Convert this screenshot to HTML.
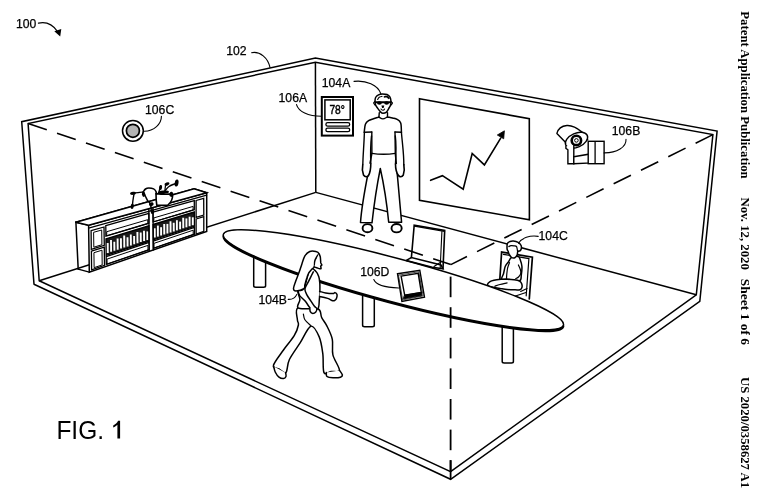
<!DOCTYPE html>
<html><head><meta charset="utf-8"><style>
html,body{margin:0;padding:0;background:#fff;width:768px;height:504px;overflow:hidden}
svg{display:block;will-change:transform}
text{font-family:"Liberation Sans",sans-serif;fill:#000}
.sr{font-family:"Liberation Serif",serif;font-weight:bold}
</style></head><body>
<svg width="768" height="504" viewBox="0 0 768 504">
<path d="M34.0,284.2 L21.7,121.7 L315.4,58.1 L717.1,131.0 L699.8,301.3 L450.6,479.3 L34.0,284.2" fill="none" stroke="#000" stroke-width="1.5" stroke-linejoin="miter" stroke-linecap="round"/>
<path d="M39.2,280.8 L28.1,123.6 L315.4,62.2 L712.9,134.6 L696.3,294.8 L450.6,471.7 L39.2,280.8" fill="none" stroke="#000" stroke-width="1.5" stroke-linejoin="miter" stroke-linecap="round"/>
<line x1="315.4" y1="62.2" x2="315.8" y2="192.4" stroke="#000" stroke-width="1.5" />
<line x1="39.2" y1="280.8" x2="315.8" y2="192.4" stroke="#000" stroke-width="1.5" />
<line x1="315.8" y1="192.4" x2="696.3" y2="294.8" stroke="#000" stroke-width="1.5" />
<line x1="28.1" y1="123.6" x2="450.8" y2="264.6" stroke="#000" stroke-width="1.6" stroke-dasharray="19.7 10.8"/>
<line x1="712.9" y1="134.6" x2="450.8" y2="264.6" stroke="#000" stroke-width="1.6" stroke-dasharray="19.3 11.2"/>
<circle cx="132.9" cy="130.8" r="10.4" fill="#fff" stroke="#000" stroke-width="1.5"/>
<circle cx="132.9" cy="130.8" r="6.5" fill="#b4b4b4" stroke="#000" stroke-width="1.7"/>
<rect x="321.8" y="97.0" width="31.2" height="38.6" fill="#fff" stroke="#000" stroke-width="2.0"/>
<rect x="324.9" y="99.9" width="25.3" height="19.9" fill="none" stroke="#000" stroke-width="1.5"/>
<rect x="325.9" y="122.7" width="23.8" height="3.5" rx="1.7" fill="none" stroke="#000" stroke-width="1.3"/>
<rect x="325.9" y="128.2" width="23.8" height="3.5" rx="1.7" fill="none" stroke="#000" stroke-width="1.3"/>
<text x="329.4" y="113.8" font-size="12.6" textLength="15.5" lengthAdjust="spacingAndGlyphs" stroke="#000" stroke-width="0.45">78°</text>
<path d="M419.5,98.7 L529.3,118.7 L529.4,219.7 L419.5,200.4 Z" fill="none" stroke="#000" stroke-width="1.6" stroke-linejoin="miter" stroke-linecap="round"/>
<path d="M430.6,180.3 L442.4,175.7 L463.2,189.2 L472.2,153.5 L484.4,164.9 L500.7,138.2" fill="none" stroke="#000" stroke-width="1.6" stroke-linejoin="miter" stroke-linecap="round"/>
<polygon points="504.4,130.8 497.3,135.0 503.7,138.8" fill="#000" stroke="#000" stroke-width="0.8"/>
<path d="M565.9,142.8 L556.9,133.4 C558,129 562,126 566.9,125.5 C571,125.2 576,127 581.7,131.9 C584.5,134 587,136.5 587.7,139.8" fill="#fff" stroke="#000" stroke-width="1.4" stroke-linejoin="round" stroke-linecap="round" />
<ellipse cx="576.5" cy="140.2" rx="11.8" ry="7.0" transform="rotate(-24 576.5 140.2)" fill="#fff" stroke="#000" stroke-width="1.4"/>
<circle cx="576.4" cy="140.4" r="4.7" fill="#fff" stroke="#000" stroke-width="2.6"/>
<circle cx="576.4" cy="140.4" r="1.8" fill="#fff" stroke="#000" stroke-width="1.0"/>
<path d="M565.9,146.3 L565.9,148.3 L567.9,149.8 L567.9,163.7 L573.8,163.7 L573.8,145.2" fill="#fff" stroke="#000" stroke-width="1.4" stroke-linejoin="miter" stroke-linecap="round"/>
<path d="M573.8,156.7 L591.7,153.7 L591.7,162.9 L573.8,163.7 Z" fill="#fff" stroke="#000" stroke-width="1.4" stroke-linejoin="miter" stroke-linecap="round"/>
<rect x="588.2" y="141.3" width="15.9" height="22.4" fill="#fff" stroke="#000" stroke-width="1.4"/>
<line x1="595.1" y1="141.3" x2="595.1" y2="163.7" stroke="#000" stroke-width="1.3" />
<path d="M75.9,222.3 L194.1,188.7 L206.7,192.8 L206.7,192.8" fill="none" stroke="#000" stroke-width="1.5" stroke-linejoin="miter" stroke-linecap="round"/>
<path d="M78.2,269.1 L75.9,222.3 L88.6,225.3" fill="#fff" stroke="#000" stroke-width="1.5" stroke-linejoin="miter" stroke-linecap="round"/>
<path d="M88.6,225.3 L206.7,192.8 L206.7,231.5 L89.3,272.1 Z" fill="#fff" stroke="#000" stroke-width="1.5" stroke-linejoin="miter" stroke-linecap="round"/>
<path d="M75.9,222.3 L194.1,188.7 L206.7,192.8 L88.6,225.3 L75.9,222.3" fill="#fff" stroke="#000" stroke-width="1.5" stroke-linejoin="miter" stroke-linecap="round"/>
<path d="M78.2,269.1 L89.3,272.1" fill="none" stroke="#000" stroke-width="1.5" stroke-linejoin="miter" stroke-linecap="round"/>
<path d="M88.6,228.1 L206.7,195.1" fill="none" stroke="#000" stroke-width="1.1" stroke-linejoin="miter" stroke-linecap="round"/>
<path d="M91.1,230.7 L104.0,227.0 L104.3,245.3 L91.3,249.4 Z" fill="none" stroke="#000" stroke-width="1.3" stroke-linejoin="miter" stroke-linecap="round"/>
<path d="M94.0,232.2 L101.7,230.0 L101.9,244.7 L94.2,247.1 Z" fill="none" stroke="#000" stroke-width="1.0" stroke-linejoin="miter" stroke-linecap="round"/>
<path d="M91.4,251.2 L104.3,247.2 L104.5,265.4 L91.6,269.9 Z" fill="none" stroke="#000" stroke-width="1.3" stroke-linejoin="miter" stroke-linecap="round"/>
<path d="M94.3,252.6 L102.0,250.2 L102.2,264.9 L94.5,267.5 Z" fill="none" stroke="#000" stroke-width="1.0" stroke-linejoin="miter" stroke-linecap="round"/>
<path d="M196.1,200.5 L203.7,198.3 L203.8,215.0 L196.1,217.4 Z" fill="none" stroke="#000" stroke-width="1.3" stroke-linejoin="miter" stroke-linecap="round"/>
<path d="M196.1,219.0 L203.8,216.6 L203.8,231.3 L196.1,234.0 Z" fill="none" stroke="#000" stroke-width="1.3" stroke-linejoin="miter" stroke-linecap="round"/>
<path d="M105.8,225.6 L148.9,213.4 L148.9,223.2 L105.9,236.1 Z" fill="none" stroke="#000" stroke-width="1.3" stroke-linejoin="miter" stroke-linecap="round"/>
<path d="M107.1,231.6 L147.7,219.7 L147.8,223.6 L107.1,235.7 Z" fill="none" stroke="#000" stroke-width="1.0" stroke-linejoin="miter" stroke-linecap="round"/>
<path d="M106.0,238.8 L149.0,225.8 L149.1,241.2 L106.2,255.3 Z" fill="#1a1a1a" stroke="#000" stroke-width="1.4" stroke-linejoin="miter" stroke-linecap="round"/>
<line x1="107.7" y1="242.9" x2="107.8" y2="252.9" stroke="#fff" stroke-width="1.9"/>
<line x1="111.0" y1="240.0" x2="111.1" y2="251.8" stroke="#fff" stroke-width="1.9"/>
<line x1="114.3" y1="241.7" x2="114.4" y2="250.7" stroke="#fff" stroke-width="1.9"/>
<line x1="117.6" y1="238.5" x2="117.7" y2="249.7" stroke="#fff" stroke-width="1.9"/>
<line x1="120.9" y1="238.3" x2="121.0" y2="248.6" stroke="#fff" stroke-width="1.9"/>
<line x1="124.2" y1="235.5" x2="124.3" y2="247.5" stroke="#fff" stroke-width="1.9"/>
<line x1="127.5" y1="237.2" x2="127.6" y2="246.4" stroke="#fff" stroke-width="1.9"/>
<line x1="130.8" y1="234.4" x2="130.9" y2="245.4" stroke="#fff" stroke-width="1.9"/>
<line x1="134.1" y1="236.0" x2="134.2" y2="244.3" stroke="#fff" stroke-width="1.9"/>
<line x1="137.4" y1="231.9" x2="137.5" y2="243.2" stroke="#fff" stroke-width="1.9"/>
<line x1="140.7" y1="232.6" x2="140.8" y2="242.1" stroke="#fff" stroke-width="1.9"/>
<line x1="144.0" y1="230.7" x2="144.1" y2="241.1" stroke="#fff" stroke-width="1.9"/>
<line x1="147.4" y1="231.4" x2="147.4" y2="240.0" stroke="#fff" stroke-width="1.9"/>
<path d="M106.2,256.6 L149.1,242.4 L149.2,249.7 L106.3,264.4 Z" fill="none" stroke="#000" stroke-width="1.3" stroke-linejoin="miter" stroke-linecap="round"/>
<path d="M107.4,259.0 L147.9,245.4 L148.0,250.1 L107.5,264.0 Z" fill="none" stroke="#000" stroke-width="1.0" stroke-linejoin="miter" stroke-linecap="round"/>
<path d="M153.0,212.2 L194.3,200.6 L194.3,209.7 L153.1,222.0 Z" fill="none" stroke="#000" stroke-width="1.3" stroke-linejoin="miter" stroke-linecap="round"/>
<path d="M154.2,217.8 L193.1,206.4 L193.1,210.0 L154.3,221.6 Z" fill="none" stroke="#000" stroke-width="1.0" stroke-linejoin="miter" stroke-linecap="round"/>
<path d="M153.1,224.5 L194.3,212.0 L194.4,226.3 L153.2,239.8 Z" fill="#1a1a1a" stroke="#000" stroke-width="1.4" stroke-linejoin="miter" stroke-linecap="round"/>
<line x1="154.7" y1="228.3" x2="154.8" y2="237.6" stroke="#fff" stroke-width="1.9"/>
<line x1="157.9" y1="225.6" x2="157.9" y2="236.6" stroke="#fff" stroke-width="1.9"/>
<line x1="161.1" y1="227.2" x2="161.1" y2="235.5" stroke="#fff" stroke-width="1.9"/>
<line x1="164.2" y1="224.1" x2="164.3" y2="234.5" stroke="#fff" stroke-width="1.9"/>
<line x1="167.4" y1="223.9" x2="167.4" y2="233.5" stroke="#fff" stroke-width="1.9"/>
<line x1="170.5" y1="221.3" x2="170.6" y2="232.4" stroke="#fff" stroke-width="1.9"/>
<line x1="173.7" y1="222.8" x2="173.8" y2="231.4" stroke="#fff" stroke-width="1.9"/>
<line x1="176.9" y1="220.2" x2="176.9" y2="230.4" stroke="#fff" stroke-width="1.9"/>
<line x1="180.1" y1="221.6" x2="180.1" y2="229.3" stroke="#fff" stroke-width="1.9"/>
<line x1="183.2" y1="217.8" x2="183.3" y2="228.3" stroke="#fff" stroke-width="1.9"/>
<line x1="186.4" y1="218.4" x2="186.4" y2="227.3" stroke="#fff" stroke-width="1.9"/>
<line x1="189.6" y1="216.7" x2="189.6" y2="226.2" stroke="#fff" stroke-width="1.9"/>
<line x1="192.8" y1="217.3" x2="192.8" y2="225.2" stroke="#fff" stroke-width="1.9"/>
<path d="M153.2,241.1 L194.4,227.5 L194.4,234.2 L153.3,248.3 Z" fill="none" stroke="#000" stroke-width="1.3" stroke-linejoin="miter" stroke-linecap="round"/>
<path d="M154.4,243.2 L193.2,230.2 L193.2,234.6 L154.4,247.9 Z" fill="none" stroke="#000" stroke-width="1.0" stroke-linejoin="miter" stroke-linecap="round"/>
<path d="M148.8,208.7 L149.2,251.4" fill="none" stroke="#000" stroke-width="1.3" stroke-linejoin="miter" stroke-linecap="round"/>
<path d="M153.0,207.6 L153.3,250.0" fill="none" stroke="#000" stroke-width="1.3" stroke-linejoin="miter" stroke-linecap="round"/>
<path d="M156,193.6 C161,194.2 167,194.4 172.6,193.9 C173,198.5 171,202.5 167.9,205.2 L156.8,205.4 C156.2,201.5 156,197.5 156,193.6 Z" fill="#fff" stroke="#000" stroke-width="1.6" stroke-linejoin="round" stroke-linecap="round" />
<path d="M143.3,191.8 C143.7,191.3 144.6,189.6 145.5,189.0 C146.4,188.4 147.5,188.0 148.8,188.0 C150.2,188.0 152.4,188.3 153.6,188.9 C154.8,189.5 155.6,190.7 156.0,191.5 C156.4,192.3 156.2,193.6 156.2,194.0" fill="none" stroke="#000" stroke-width="1.6" stroke-linejoin="round" stroke-linecap="round" />
<path d="M143.3,191.8 C143.7,192.6 144.8,195.1 145.5,196.5 C146.2,197.9 146.8,199.4 147.5,200.5 C148.2,201.6 149.2,201.9 149.8,203.0 C150.4,204.1 150.8,205.6 151.0,207.0 C151.2,208.4 151.2,210.8 151.3,211.5" fill="none" stroke="#000" stroke-width="1.5" stroke-linejoin="round" stroke-linecap="round" />
<path d="M143.3,192.0 C142.4,192.1 140.0,192.4 138.0,192.6 C136.0,192.8 132.4,193.1 131.3,193.2" fill="none" stroke="#000" stroke-width="1.4" stroke-linejoin="round" stroke-linecap="round" />
<path d="M134.2,193.4 C134.0,194.2 133.6,196.2 133.3,198.0 C133.0,199.8 132.6,203.4 132.5,204.5" fill="none" stroke="#000" stroke-width="1.4" stroke-linejoin="round" stroke-linecap="round" />
<ellipse cx="133" cy="193.3" rx="3.0" ry="1.5" transform="rotate(-8 133 193.3)" fill="#000"/>
<ellipse cx="132.2" cy="206.2" rx="1.6" ry="2.8" transform="rotate(10 132.2 206.2)" fill="#000"/>
<ellipse cx="143.6" cy="194.3" rx="1.7" ry="2.6" transform="rotate(-10 143.6 194.3)" fill="#000"/>
<ellipse cx="151.3" cy="204.3" rx="2.4" ry="1.8" transform="rotate(-20 151.3 204.3)" fill="#000"/>
<ellipse cx="152.4" cy="211.7" rx="1.6" ry="2.4" transform="rotate(10 152.4 211.7)" fill="#000"/>
<ellipse cx="171.3" cy="194.3" rx="1.9" ry="2.6" transform="rotate(10 171.3 194.3)" fill="#000"/>
<ellipse cx="160.6" cy="187.5" rx="1.5" ry="2.6" transform="rotate(10 160.6 187.5)" fill="#000"/>
<ellipse cx="167" cy="184" rx="2.6" ry="1.5" transform="rotate(-20 167 184)" fill="#000"/>
<ellipse cx="176.6" cy="183.0" rx="1.9" ry="3.6" transform="rotate(10 176.6 183.0)" fill="#000"/>
<ellipse cx="163.5" cy="192.2" rx="5.5" ry="1.7" transform="rotate(-5 163.5 192.2)" fill="#000"/>
<path d="M158.5,193.3 C158.7,192.8 159.2,191.2 159.5,190.0 C159.8,188.8 160.3,186.7 160.5,186.0" fill="none" stroke="#000" stroke-width="1.4" stroke-linejoin="round" stroke-linecap="round" />
<path d="M163.5,192.5 C163.9,192.0 165.1,190.5 166.0,189.5 C166.9,188.5 167.8,187.3 169.0,186.5 C170.2,185.7 171.8,185.0 173.0,184.5 C174.2,184.0 175.5,183.7 176.0,183.5" fill="none" stroke="#000" stroke-width="1.4" stroke-linejoin="round" stroke-linecap="round" />
<path d="M165.0,189.5 C165.1,188.9 165.2,186.9 165.5,186.0 C165.8,185.1 166.3,184.6 166.5,184.3" fill="none" stroke="#000" stroke-width="1.2" stroke-linejoin="round" stroke-linecap="round" />
<path d="M499.8,279.8 L501.6,252.1 L532.4,257.1 L529.3,298.9" fill="#fff" stroke="#000" stroke-width="1.7" stroke-linejoin="miter" stroke-linecap="round"/>
<path d="M503.3,254.3 L528.9,258.6 L526.2,295.8" fill="none" stroke="#000" stroke-width="1.2" stroke-linejoin="miter" stroke-linecap="round"/>
<path d="M520.7,291.5 L527.0,288.5" fill="none" stroke="#000" stroke-width="1.2" stroke-linejoin="miter" stroke-linecap="round"/>
<path d="M514.0,296.5 L526.0,292.5" fill="none" stroke="#000" stroke-width="1.2" stroke-linejoin="miter" stroke-linecap="round"/>
<path d="M511.4,257.7 C509.8,258.6 509.4,260.6 508.4,262.0 C507.4,263.4 506.1,264.4 505.3,266.3 C504.5,268.2 504.1,271.6 503.5,273.7 C502.9,275.8 501.0,278.3 501.6,279.2 C502.2,280.1 504.0,278.9 507.0,279.2 C510.0,279.5 517.0,281.7 519.4,281.0 C521.8,280.3 520.9,277.3 521.3,274.9 C521.7,272.4 522.1,268.8 521.9,266.3 C521.7,263.8 520.9,261.6 520.3,260.0 C519.7,258.4 519.7,256.9 518.2,256.5 C516.7,256.1 513.0,256.8 511.4,257.7 Z" fill="#fff" stroke="#000" stroke-width="1.5" stroke-linejoin="round" stroke-linecap="round" />
<path d="M509.5,262.5 C509.2,263.4 508.1,266.1 507.6,268.0 C507.2,269.9 507.0,272.2 506.8,274.0 C506.6,275.8 506.6,277.8 506.5,278.5" fill="none" stroke="#000" stroke-width="1.2" stroke-linejoin="round" stroke-linecap="round" />
<path d="M518.4,265.0 C518.8,265.8 520.1,268.6 520.5,270.0 C520.9,271.4 521.0,272.5 520.7,273.7 C520.4,274.9 519.3,276.2 518.5,277.0 C517.7,277.8 516.2,278.3 515.8,278.6" fill="none" stroke="#000" stroke-width="1.2" stroke-linejoin="round" stroke-linecap="round" />
<path d="M507.1,249.1 C507.0,247.8 506.9,244.8 507.4,243.5 C507.9,242.2 509.0,241.9 510.0,241.5 C511.0,241.1 511.9,240.9 513.3,241.0 C514.7,241.1 516.9,241.6 518.2,242.3 C519.5,243.1 520.6,244.4 521.1,245.5 C521.6,246.6 521.4,248.1 521.2,249.0 C521.0,249.9 520.6,250.4 520.0,250.8 C519.4,251.2 518.3,250.9 517.8,251.6 C517.3,252.3 517.7,253.8 517.2,254.8 C516.7,255.8 515.7,257.4 514.8,257.8 C513.9,258.2 512.5,258.1 511.6,257.5 C510.7,256.9 509.8,255.5 509.2,254.5 C508.6,253.5 508.5,252.4 508.2,251.5 C507.9,250.6 507.2,250.4 507.1,249.1 Z" fill="#fff" stroke="#000" stroke-width="1.5" stroke-linejoin="round" stroke-linecap="round" />
<path d="M508.8,246.6 C509.2,246.4 510.1,245.7 511.0,245.6 C511.9,245.5 513.1,245.6 514.0,245.8 C514.9,246.0 516.0,245.6 516.6,246.6 C517.2,247.6 517.4,250.8 517.6,251.6" fill="none" stroke="#000" stroke-width="1.2" stroke-linejoin="round" stroke-linecap="round" />
<path d="M487.5,284.3 C487.6,283.5 488.9,282.3 490.0,281.6 C491.1,280.9 492.2,280.6 494.0,280.2 C495.8,279.8 498.8,279.5 501.0,279.3 C503.2,279.1 504.9,279.1 507.1,279.2 C509.3,279.3 511.9,279.5 514.0,279.8 C516.0,280.1 518.1,280.4 519.4,281.0 C520.7,281.6 521.2,282.5 521.6,283.5 C522.0,284.5 522.3,286.2 522.0,287.2 C521.7,288.2 521.5,289.3 520.0,289.7 C518.5,290.1 515.1,289.8 513.0,289.8 C510.9,289.8 509.3,289.7 507.1,289.5 C504.9,289.3 502.1,288.8 500.0,288.5 C497.9,288.2 496.6,287.8 494.8,287.5 C493.1,287.2 490.7,287.0 489.5,286.5 C488.3,286.0 487.4,285.1 487.5,284.3 Z" fill="#fff" stroke="#000" stroke-width="1.5" stroke-linejoin="round" stroke-linecap="round" />
<path d="M494.8,286.2 C495.7,285.9 497.9,285.1 500.0,284.5 C502.1,283.9 505.9,283.2 507.1,282.9" fill="none" stroke="#000" stroke-width="1.2" stroke-linejoin="round" stroke-linecap="round" />
<path d="M253.7,255 L253.7,285.7 Q253.7,287.2 255.7,287.2 L263.6,287.2 Q265.6,287.2 265.6,285.7 L265.6,255" fill="#fff" stroke="#000" stroke-width="1.5" stroke-linejoin="round" stroke-linecap="round" />
<path d="M362.6,293 L362.6,325.3 Q362.6,326.8 364.6,326.8 L372.3,326.8 Q374.3,326.8 374.3,325.3 L374.3,293" fill="#fff" stroke="#000" stroke-width="1.5" stroke-linejoin="round" stroke-linecap="round" />
<path d="M502.2,322 L502.2,361.5 Q502.2,363.0 504.2,363.0 L511.4,363.0 Q513.4,363.0 513.4,361.5 L513.4,322" fill="#fff" stroke="#000" stroke-width="1.5" stroke-linejoin="round" stroke-linecap="round" />
<ellipse cx="393.4" cy="281.3" rx="176.0" ry="21.69" transform="rotate(14.94 393.4 281.3)" fill="#000" stroke="#000" stroke-width="1.6"/>
<ellipse cx="393.4" cy="279.75" rx="176.0" ry="21.69" transform="rotate(14.94 393.4 279.75)" fill="#fff" stroke="#000" stroke-width="1.5"/>
<path d="M411.4,257.5 L414.2,225.3 L444.7,230.4 L443.0,268.8" fill="none" stroke="#000" stroke-width="1.6" stroke-linejoin="miter" stroke-linecap="round"/>
<path d="M414.4,226.2 L444.5,231.3" fill="none" stroke="#000" stroke-width="1.3" stroke-linejoin="miter" stroke-linecap="round"/>
<path d="M441.9,231.6 L440.2,267.7" fill="none" stroke="#000" stroke-width="1.1" stroke-linejoin="miter" stroke-linecap="round"/>
<path d="M406.3,260.4 L411.4,257.5 L441.0,265.0 L443.0,268.8 L432.3,267.2 L406.3,260.4" fill="none" stroke="#000" stroke-width="1.5" stroke-linejoin="miter" stroke-linecap="round"/>
<path d="M434.0,266.5 L441.0,262.0" fill="none" stroke="#000" stroke-width="1.1" stroke-linejoin="miter" stroke-linecap="round"/>
<line x1="450.6" y1="276.6" x2="450.6" y2="297.2" stroke="#000" stroke-width="1.8" />
<line x1="450.6" y1="307.2" x2="450.6" y2="327.8" stroke="#000" stroke-width="1.8" />
<line x1="450.6" y1="337.8" x2="450.6" y2="358.4" stroke="#000" stroke-width="1.8" />
<line x1="450.6" y1="368.4" x2="450.6" y2="389.0" stroke="#000" stroke-width="1.8" />
<line x1="450.6" y1="399.0" x2="450.6" y2="419.6" stroke="#000" stroke-width="1.8" />
<line x1="450.6" y1="429.6" x2="450.6" y2="450.2" stroke="#000" stroke-width="1.8" />
<line x1="450.6" y1="460.2" x2="450.6" y2="471.7" stroke="#000" stroke-width="1.8" />
<line x1="450.6" y1="460.2" x2="450.6" y2="479.3" stroke="#000" stroke-width="1.8" />
<path d="M397.5,273.7 L419.8,270.2 L424.5,297.1 L401.9,301.5 Z" fill="#fff" stroke="#000" stroke-width="1.4" stroke-linejoin="miter" stroke-linecap="round"/>
<path d="M398.9,275.1 L418.8,271.8 L423.1,295.9 L403.0,299.9 Z" fill="none" stroke="#000" stroke-width="0.7" stroke-linejoin="miter" stroke-linecap="round"/>
<path d="M401.1,276.1 L418.2,273.3 L421.3,292.4 L404.7,295.2 Z" fill="none" stroke="#000" stroke-width="1.4" stroke-linejoin="miter" stroke-linecap="round"/>
<path d="M404.7,295.2 L421.3,292.4 L421.9,295.6 L403.6,298.8 Z" fill="#000" stroke="#000" stroke-width="0.9" stroke-linejoin="miter" stroke-linecap="round"/>
<path d="M404.4,297.0 L421.6,294.0" fill="none" stroke="#000" stroke-width="0.6" stroke-linejoin="miter" stroke-linecap="round"/>
<ellipse cx="367.5" cy="228.2" rx="4.9" ry="4.1" fill="#fff" stroke="#000" stroke-width="1.9"/>
<ellipse cx="396.6" cy="228.2" rx="5.1" ry="4.2" fill="#fff" stroke="#000" stroke-width="1.9"/>
<path d="M371.9,153.4 C368,175 362,200 360.5,222.5 L372,222.8 C374,205 377,185 380.3,168.5 C384,185 387,205 388.7,222.3 L401.6,222.3 C399.5,200 397.5,175 395.3,153.4" fill="#fff" stroke="#000" stroke-width="1.5" stroke-linejoin="round" stroke-linecap="round" />
<path d="M378.9,117.1 C378.0,117.4 375.2,118.2 373.5,118.8 C371.8,119.4 370.0,119.8 368.6,120.7 C367.2,121.6 366.1,122.5 365.4,124.3 C364.7,126.1 364.5,130.1 364.3,131.4 C364.1,132.7 364.4,132.2 364.4,132.3" fill="none" stroke="#000" stroke-width="1.5" stroke-linejoin="round" stroke-linecap="round" />
<path d="M387.5,116.9 C388.3,117.1 390.9,117.6 392.5,118.0 C394.1,118.4 395.7,118.5 397.1,119.3 C398.5,120.1 400.0,120.9 400.7,122.9 C401.4,124.9 401.3,129.8 401.4,131.4 C401.5,133.0 401.4,132.2 401.4,132.3" fill="none" stroke="#000" stroke-width="1.5" stroke-linejoin="round" stroke-linecap="round" />
<path d="M364.4,132.3 L371.8,132.0" fill="none" stroke="#000" stroke-width="1.4" stroke-linejoin="miter" stroke-linecap="round"/>
<path d="M395.0,132.0 L401.4,132.3" fill="none" stroke="#000" stroke-width="1.4" stroke-linejoin="miter" stroke-linecap="round"/>
<path d="M378.9,117.1 C379.6,117.4 381.5,118.9 382.9,118.9 C384.3,118.9 386.7,117.2 387.5,116.9" fill="none" stroke="#000" stroke-width="1.3" stroke-linejoin="round" stroke-linecap="round" />
<path d="M371.8,132 L371.9,153.4 M395,132 L395.3,153.4" fill="none" stroke="#000" stroke-width="1.4" stroke-linejoin="round" stroke-linecap="round" />
<path d="M371.9,153.4 C380,154.6 387,154.6 395.3,153.4" fill="none" stroke="#000" stroke-width="1.4" stroke-linejoin="round" stroke-linecap="round" />
<path d="M364.4,132.3 C364,145 363,155 362.8,165 M371.5,136 C370.5,145 370.5,155 370.8,163" fill="none" stroke="#000" stroke-width="1.4" stroke-linejoin="round" stroke-linecap="round" />
<path d="M401.4,132.3 C402.5,145 404,155 403.8,165 M395.3,136 C396.5,145 396,155 395.5,164" fill="none" stroke="#000" stroke-width="1.4" stroke-linejoin="round" stroke-linecap="round" />
<path d="M362.8,164.5 C362,168 362.5,172 363.5,175 C365,177.2 367.5,177.2 368.5,175.5 C370,173 370.8,168 370.8,163.5" fill="#fff" stroke="#000" stroke-width="1.6" stroke-linejoin="round" stroke-linecap="round" />
<path d="M403.8,164.5 C404.5,168 404.3,172 403.3,175 C402,177.2 399.5,177.2 398.5,175.5 C396.5,173 395.5,168 395.5,164" fill="#fff" stroke="#000" stroke-width="1.6" stroke-linejoin="round" stroke-linecap="round" />
<path d="M379.3,112.6 L378.9,117.1 M387.5,112.6 L387.5,116.9" fill="none" stroke="#000" stroke-width="1.4" stroke-linejoin="round" stroke-linecap="round" />
<path d="M375.0,101.5 C375.0,100.2 375.0,98.6 375.6,97.5 C376.2,96.4 377.4,95.4 378.5,94.8 C379.6,94.2 381.1,94.0 382.5,94.0 C383.9,94.0 385.8,94.0 387.0,94.5 C388.2,95.0 389.3,96.0 390.0,97.2 C390.7,98.4 390.9,100.1 391.0,101.5 C391.1,102.9 390.7,104.5 390.4,105.5 C390.1,106.5 390.0,106.4 389.3,107.5 C388.6,108.6 387.5,111.1 386.4,112.1 C385.3,113.0 383.8,113.2 382.9,113.2 C381.9,113.2 381.7,113.0 380.7,112.1 C379.7,111.1 378.0,108.7 377.1,107.5 C376.2,106.3 376.0,106.0 375.6,105.0 C375.2,104.0 375.0,102.8 375.0,101.5 Z" fill="#fff" stroke="#000" stroke-width="1.5" stroke-linejoin="round" stroke-linecap="round" />
<path d="M377.6,99.5 C377.9,99.1 378.5,97.7 379.2,97.2 C379.9,96.7 381.5,96.5 382.0,96.4" fill="none" stroke="#000" stroke-width="1.1" stroke-linejoin="round" stroke-linecap="round" />
<path d="M384.5,96.8 C384.9,96.8 386.1,96.4 386.8,96.6 C387.5,96.8 388.5,97.9 388.8,98.2" fill="none" stroke="#000" stroke-width="1.8" stroke-linejoin="round" stroke-linecap="round" />
<path d="M374.8,101.5 C374.6,101.8 373.5,102.4 373.6,103.0 C373.7,103.6 374.9,104.8 375.2,105.2" fill="none" stroke="#000" stroke-width="1.2" stroke-linejoin="round" stroke-linecap="round" />
<path d="M391.0,101.5 C391.2,101.8 392.4,102.4 392.4,103.0 C392.4,103.6 391.1,104.8 390.8,105.2" fill="none" stroke="#000" stroke-width="1.2" stroke-linejoin="round" stroke-linecap="round" />
<rect x="374.6" y="101.3" width="16.8" height="2.0" rx="1" fill="#000"/>
<ellipse cx="379.4" cy="103.0" rx="2.4" ry="1.8" fill="#000"/>
<ellipse cx="386.6" cy="103.0" rx="2.4" ry="1.8" fill="#000"/>
<path d="M381.4,105.5 L384.3,105.5 L383.6,108 L382.1,108 Z" fill="#000"/>
<path d="M381,109 C382,110.6 383.8,110.6 384.6,109" fill="none" stroke="#000" stroke-width="1.1" stroke-linejoin="round" stroke-linecap="round" />
<path d="M297.9,307.8 C294.5,309.6 297.3,316.8 297.4,319.7 C297.5,322.6 298.9,322.3 298.4,325.0 C297.9,327.7 296.7,331.5 294.2,335.7 C291.7,339.9 287.0,345.0 283.5,350.0 C280.0,355.0 274.1,362.3 273.4,365.5 C272.6,368.7 276.9,367.8 279.0,369.0 C281.1,370.2 284.2,374.2 285.9,372.6 C287.6,371.0 287.0,364.4 289.4,359.5 C291.8,354.6 296.5,348.4 300.1,342.9 C303.7,337.3 307.7,327.2 310.9,326.2 C314.1,325.2 317.2,332.3 319.2,336.9 C321.2,341.5 322.0,347.7 322.8,353.6 C323.6,359.6 322.6,369.6 324.0,372.6 C325.4,375.6 328.4,371.9 331.0,371.5 C333.6,371.1 339.1,373.0 339.4,370.2 C339.7,367.4 334.1,359.9 332.9,354.8 C331.7,349.7 333.3,344.2 332.3,339.3 C331.3,334.4 328.5,329.2 326.7,325.6 C324.9,322.0 323.2,320.5 321.7,317.7 C320.2,314.9 321.8,310.4 317.8,308.8 C313.8,307.2 301.3,306.0 297.9,307.8 Z" fill="#fff" stroke="#000" stroke-width="1.5" stroke-linejoin="round" stroke-linecap="round" />
<path d="M303.4,314.2 C303.6,315.1 303.7,317.8 304.9,319.7 C306.1,321.6 309.8,324.6 310.8,325.6" fill="none" stroke="#000" stroke-width="1.2" stroke-linejoin="round" stroke-linecap="round" />
<path d="M273.8,366.5 C274.0,367.4 274.3,370.2 275.2,372.0 C276.1,373.8 277.6,376.1 279.0,377.2 C280.4,378.3 282.3,378.7 283.5,378.6 C284.7,378.5 285.6,377.5 286.0,376.5 C286.4,375.5 285.7,373.4 285.6,372.8" fill="#fff" stroke="#000" stroke-width="1.5" stroke-linejoin="round" stroke-linecap="round" />
<path d="M326.3,372.6 C326.4,373.2 325.9,375.6 327.0,376.5 C328.1,377.4 330.8,377.7 333.0,377.8 C335.2,377.9 338.9,377.7 340.5,377.2 C342.1,376.7 342.5,376.1 342.4,375.0 C342.2,373.9 340.1,371.2 339.6,370.5" fill="#fff" stroke="#000" stroke-width="1.5" stroke-linejoin="round" stroke-linecap="round" />
<path d="M309.8,269.3 C311.8,266.4 314.3,270.1 315.8,271.3 C317.3,272.6 318.1,274.9 318.8,276.8 C319.5,278.8 319.6,280.2 319.8,283.0 C320.0,285.8 319.9,290.8 319.8,293.6 C319.7,296.4 319.6,297.3 319.3,299.8 C319.0,302.3 319.4,307.3 317.8,308.8 C316.2,310.3 313.1,309.0 309.8,308.8 C306.5,308.6 299.5,309.4 297.9,307.8 C296.2,306.2 299.9,302.3 299.9,299.5 C299.9,296.7 297.2,292.7 297.9,290.9 C298.6,289.1 301.9,292.3 303.9,288.7 C305.9,285.1 307.8,272.2 309.8,269.3 Z" fill="#fff" stroke="#000" stroke-width="1.5" stroke-linejoin="round" stroke-linecap="round" />
<path d="M319.6,291.4 C320.6,291.6 323.5,292.5 325.7,292.9 C327.9,293.3 331.1,293.7 332.7,293.6 C334.2,293.6 334.3,292.5 335.0,292.6 C335.7,292.8 336.7,293.6 337.0,294.5 C337.3,295.4 336.9,297.1 336.6,298.0 C336.3,298.9 336.0,299.5 335.3,300.0 C334.6,300.5 334.0,301.1 332.7,300.8 C331.4,300.5 329.9,299.1 327.7,298.4 C325.5,297.7 321.0,296.7 319.6,296.4" fill="#fff" stroke="#000" stroke-width="1.5" stroke-linejoin="round" stroke-linecap="round" />
<path d="M313.3,271.8 C312.9,272.6 311.7,275.0 310.8,276.8 C309.9,278.6 308.9,280.7 307.9,282.7 C306.9,284.7 305.1,286.9 304.9,288.9 C304.7,290.9 305.9,292.9 306.9,294.9 C307.9,296.9 309.5,298.8 310.8,300.8 C312.1,302.8 314.1,305.8 314.8,306.8" fill="none" stroke="#000" stroke-width="1.5" stroke-linejoin="round" stroke-linecap="round" />
<path d="M297.9,290.9 C298.2,291.7 298.7,294.2 299.9,295.9 C301.1,297.5 303.2,298.8 304.9,300.8 C306.5,302.8 309.0,306.6 309.8,307.8" fill="none" stroke="#000" stroke-width="1.5" stroke-linejoin="round" stroke-linecap="round" />
<path d="M309.8,307.5 C309.9,308.2 309.8,310.7 310.3,311.7 C310.8,312.7 311.9,313.4 312.8,313.4 C313.7,313.4 315.1,312.7 315.8,311.9 C316.5,311.1 317.0,309.4 316.8,308.5 C316.6,307.6 315.1,307.1 314.8,306.8" fill="#fff" stroke="#000" stroke-width="1.5" stroke-linejoin="round" stroke-linecap="round" />
<path d="M318.8,253.5 C318.6,252.8 317.3,251.8 315.8,251.5 C314.3,251.2 311.6,250.8 309.8,251.5 C308.0,252.2 306.2,253.8 304.9,255.9 C303.6,258.0 302.9,261.1 301.9,263.9 C300.9,266.7 300.0,269.8 298.9,272.8 C297.8,275.8 296.4,279.1 295.5,281.7 C294.6,284.3 293.4,287.2 293.5,288.7 C293.6,290.2 294.3,290.9 296.0,290.9 C297.7,290.9 302.4,289.7 303.9,288.7 C305.4,287.7 304.4,286.5 304.9,284.7 C305.4,282.9 306.2,279.8 306.9,277.8 C307.5,275.8 308.0,274.2 308.8,272.8 C309.6,271.4 310.9,270.3 311.8,269.3 C312.7,268.3 313.8,268.2 314.3,266.8 C314.8,265.4 314.3,262.7 314.8,260.9 C315.3,259.1 316.6,257.1 317.3,255.9 C318.0,254.7 319.1,254.2 318.8,253.5 Z" fill="#fff" stroke="#000" stroke-width="1.5" stroke-linejoin="round" stroke-linecap="round" />
<path d="M318.8,253.5 C319.1,254.1 320.0,255.3 320.3,256.9 C320.6,258.5 320.6,261.6 320.8,262.9 C321.1,264.2 321.8,264.3 321.8,264.9 C321.8,265.5 320.8,265.8 320.7,266.3 C320.6,266.9 321.2,267.8 321.1,268.2 C321.0,268.6 320.5,268.9 319.8,268.8 C319.1,268.7 317.7,268.1 316.8,267.8 C315.9,267.5 314.7,267.0 314.3,266.8" fill="#fff" stroke="#000" stroke-width="1.5" stroke-linejoin="round" stroke-linecap="round" />
<text class="sr" transform="translate(741.2,11.3) rotate(90)" font-size="12.6" textLength="167.4" lengthAdjust="spacingAndGlyphs">Patent Application Publication</text>
<text class="sr" transform="translate(741.2,197.5) rotate(90)" font-size="12.6" textLength="72.3" lengthAdjust="spacingAndGlyphs">Nov. 12, 2020</text>
<text class="sr" transform="translate(741.2,278.7) rotate(90)" font-size="12.6" textLength="66.3" lengthAdjust="spacingAndGlyphs">Sheet 1 of 6</text>
<text class="sr" transform="translate(741.2,377.0) rotate(90)" font-size="12.6" textLength="111.0" lengthAdjust="spacingAndGlyphs">US 2020/0358627 A1</text>
<path d="M38.5,23.2 C46,21.5 53,25 57.5,31.5" fill="none" stroke="#000" stroke-width="1.3" stroke-linejoin="round" stroke-linecap="round" />
<polygon points="54.3,31.2 61.3,29.0 60.2,36.4" fill="#000"/>
<path d="M251.6,52.7 C260,51 268,58 270,67.5" fill="none" stroke="#000" stroke-width="1.1" stroke-linejoin="round" stroke-linecap="round" />
<path d="M161.4,116.3 C161.5,124 154,131 144.3,131.3" fill="none" stroke="#000" stroke-width="1.1" stroke-linejoin="round" stroke-linecap="round" />
<path d="M296.5,104.6 C298.5,111.5 308,116.2 321.4,116.3" fill="none" stroke="#000" stroke-width="1.1" stroke-linejoin="round" stroke-linecap="round" />
<path d="M354,81.4 C366,80 378,85 380.8,93.7" fill="none" stroke="#000" stroke-width="1.1" stroke-linejoin="round" stroke-linecap="round" />
<path d="M626,139.4 C626.5,147 617,153 604.1,152.9" fill="none" stroke="#000" stroke-width="1.1" stroke-linejoin="round" stroke-linecap="round" />
<path d="M538.2,236.4 C530,235 521.5,238 518.6,243.3" fill="none" stroke="#000" stroke-width="1.1" stroke-linejoin="round" stroke-linecap="round" />
<path d="M288.2,299.4 C292.5,299.6 295.5,297.5 296.8,294.4" fill="none" stroke="#000" stroke-width="1.1" stroke-linejoin="round" stroke-linecap="round" />
<path d="M373.8,279.5 C376,285.5 387,287.5 398.7,288" fill="none" stroke="#000" stroke-width="1.1" stroke-linejoin="round" stroke-linecap="round" />
<text x="15.900000000000002" y="28.400000000000002" font-size="12.2" stroke="#000" stroke-width="0.25">100</text>
<text x="226.3" y="55.199999999999996" font-size="12.2" stroke="#000" stroke-width="0.25">102</text>
<text x="145.05" y="114.1" font-size="12.2" stroke="#000" stroke-width="0.25">106C</text>
<text x="278.6" y="102.0" font-size="12.2" stroke="#000" stroke-width="0.25">106A</text>
<text x="321.8" y="87.3" font-size="12.2" stroke="#000" stroke-width="0.25">104A</text>
<text x="611.8" y="134.8" font-size="12.2" stroke="#000" stroke-width="0.25">106B</text>
<text x="538.5999999999999" y="240.10000000000002" font-size="12.2" stroke="#000" stroke-width="0.25">104C</text>
<text x="258.40000000000003" y="304.1" font-size="12.2" stroke="#000" stroke-width="0.25">104B</text>
<text x="360.2" y="276.3" font-size="12.2" stroke="#000" stroke-width="0.25">106D</text>
<text x="56.4" y="438.6" font-size="25.2" textLength="47.6" lengthAdjust="spacingAndGlyphs">FIG.</text>
<path d="M117.4,438.4 L120.1,438.4 L120.1,420.8 L118.1,420.8 C117.2,422.8 115.3,424.4 113.2,425.5 L113.2,427.6 C114.9,426.9 116.4,425.9 117.4,424.8 Z" fill="#000"/>
</svg>
</body></html>
